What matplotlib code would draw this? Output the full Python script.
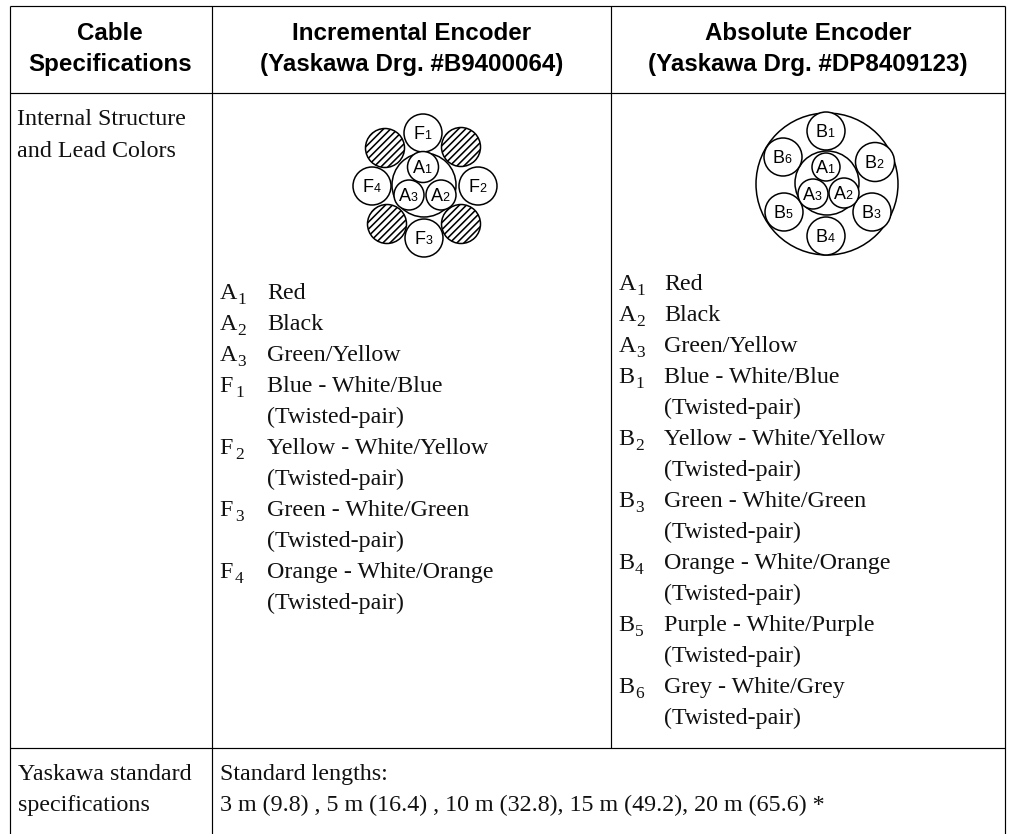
import numpy as np
import matplotlib
matplotlib.use("Agg")
import matplotlib.pyplot as plt
from matplotlib.patches import Circle

W, H = 1011, 834
SERIF = "Liberation Serif"
SANS = "Liberation Sans"

header_col0 = ["Cable", "Specifications"]
header_col1 = ["Incremental Encoder", "(Yaskawa Drg. #B9400064)"]
header_col2 = ["Absolute Encoder", "(Yaskawa Drg. #DP8409123)"]
row1_label = ["Internal Structure", "and Lead Colors"]
row2_label = ["Yaskawa standard", "specifications"]
row2_text = ["Standard lengths:", "3 m (9.8) , 5 m (16.4) , 10 m (32.8), 15 m (49.2), 20 m (65.6) *"]

incremental_leads = [
    ("A", "1", "Red"), ("A", "2", "Black"), ("A", "3", "Green/Yellow"),
    ("F", "1", "Blue - White/Blue"), ("", "", "(Twisted-pair)"),
    ("F", "2", "Yellow - White/Yellow"), ("", "", "(Twisted-pair)"),
    ("F", "3", "Green - White/Green"), ("", "", "(Twisted-pair)"),
    ("F", "4", "Orange - White/Orange"), ("", "", "(Twisted-pair)"),
]
absolute_leads = [
    ("A", "1", "Red"), ("A", "2", "Black"), ("A", "3", "Green/Yellow"),
    ("B", "1", "Blue - White/Blue"), ("", "", "(Twisted-pair)"),
    ("B", "2", "Yellow - White/Yellow"), ("", "", "(Twisted-pair)"),
    ("B", "3", "Green - White/Green"), ("", "", "(Twisted-pair)"),
    ("B", "4", "Orange - White/Orange"), ("", "", "(Twisted-pair)"),
    ("B", "5", "Purple - White/Purple"), ("", "", "(Twisted-pair)"),
    ("B", "6", "Grey - White/Grey"), ("", "", "(Twisted-pair)"),
]

# (x, y, radius, label)
incr_plain = [(424, 185, 32, ""), (423, 133, 19, "F1"), (478, 186, 19, "F2"), (424, 238, 19, "F3"),
              (372, 186, 19, "F4"), (423, 167, 15.5, "A1"), (441, 195, 15, "A2"), (409, 195, 15, "A3")]
incr_hatched = [(385, 148, 19.5), (461, 147, 19.5), (387, 224, 19.5), (461, 224, 19.5)]
abs_plain = [(827, 184, 71, ""), (827, 183, 32, ""), (826, 131, 19, "B1"), (875, 162, 19.5, "B2"),
             (872, 212, 19, "B3"), (826, 236, 19, "B4"), (784, 212, 19, "B5"), (783, 157, 19, "B6"),
             (826, 167, 14, "A1"), (844, 193, 15, "A2"), (813, 194, 15, "A3")]

fig = plt.figure(figsize=(W / 100, H / 100), dpi=100, facecolor="white")
ax = fig.add_axes([0, 0, 1, 1])
ax.set_xlim(0, W)
ax.set_ylim(H, 0)
ax.axis("off")

# grid
LW = 0.85
for y, x0, x1 in [(6, 9.5, 1005), (93, 9.5, 1005), (748, 9.5, 1005)]:
    ax.plot([x0, x1], [y, y], color="black", lw=LW, solid_capstyle="butt")
for x, y0, y1 in [(9.5, 6, 834), (212, 6, 834), (611, 6, 748), (1005, 6, 834)]:
    ax.plot([x, x], [y0, y1], color="black", lw=LW, solid_capstyle="butt")

# header
HFS = 17.4
for lines, cx in [(header_col0, 110), (header_col1, 412), (header_col2, 808)]:
    for line, y in zip(lines, [40, 71]):
        ax.text(cx, y, line, ha="center", va="baseline", family=SANS, weight="bold", fontsize=HFS)

# body
FS = 17.3
SUB = 12.5
ADV = {"A": 17.5, "F": 15.5, "B": 16.5}
def body(x, y, s):
    ax.text(x, y, s, ha="left", va="baseline", family=SERIF, fontsize=FS, color="#111111")

for s, y in zip(row1_label, [125, 157]):
    body(17, y, s)
for s, y in zip(row2_label, [780, 811]):
    body(18, y, s)
for s, y in zip(row2_text, [780, 811]):
    body(220.5, y, s)

def leads(items, x0, x1, y0, dy):
    for i, (c, n, t) in enumerate(items):
        y = y0 + i * dy
        if c:
            body(x0, y, c)
            ax.text(x0 + ADV[c], y + 5, n, ha="left", va="baseline", family=SERIF, fontsize=SUB, color="#111111")
        body(x1, y, t)

leads(incremental_leads, 219.5, 267, 299, 31.0)
leads(absolute_leads, 618.5, 664, 290, 31.0)

# diagrams
def circle(x, y, r):
    c = Circle((x, y), r, facecolor="white", edgecolor="black", lw=1.1)
    ax.add_patch(c)
    return c
def clabel(x, y, s):
    ax.text(x + 3, y + 6, s[0], ha="right", va="baseline", family=SANS, fontsize=13)
    ax.text(x + 3, y + 6, s[1], ha="left", va="baseline", family=SANS, fontsize=9)

HATCH_STEP = 5.0
for x, y, r, s in incr_plain:
    circle(x, y, r)
    if s:
        clabel(x - 1.5, y, s)
for x, y, r in incr_hatched:
    c = circle(x, y, r)
    for off in np.arange(-r, r + HATCH_STEP, HATCH_STEP):
        dx, dy = off * 0.7071, off * 0.7071
        ln, = ax.plot([x + dx - r * 0.7071, x + dx + r * 0.7071],
                      [y + dy + r * 0.7071, y + dy - r * 0.7071],
                      color="black", lw=1.15, solid_capstyle="butt")
        ln.set_clip_path(c)
for x, y, r, s in abs_plain:
    circle(x, y, r)
    if s:
        clabel(x - 1.5, y, s)

fig.savefig("out.png", dpi=100, facecolor="white")
